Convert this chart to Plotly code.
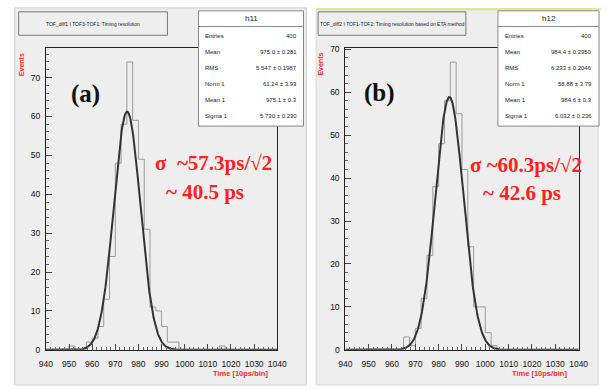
import numpy as np
import plotly.graph_objects as go

# ---------------- data ----------------
bin_width = 2.5
bin_lo = [940 + 2.5 * i for i in range(40)]

h11_counts = [0, 0, 0, 0, 1, 0, 0, 2, 3, 6,
              13, 24, 48, 58, 74, 59, 49, 31, 11, 10,
              6, 2, 2, 0, 0, 0, 0, 0, 0, 0,
              1, 0, 0, 0, 0, 0, 0, 0, 0, 0]
h12_counts = [0, 0, 0, 0, 0, 0, 0, 0, 0, 0,
              3, 1, 5, 12, 22, 38, 48, 58, 67, 55,
              42, 24, 10, 10, 4, 1, 0, 0, 0, 0,
              0, 0, 0, 0, 0, 0, 0, 0, 0, 0]

# fit parameters (Norm, Mean, Sigma)
h11_fit = [61.24, 975.1, 5.730]
h12_fit = [58.88, 984.6, 6.032]

h11_stats = [("Entries", "400"), ("Mean", "975.0 \u00b1 0.281"), ("RMS", "5.547 \u00b1 0.1987"),
             ("Norm 1", "61.24 \u00b1 3.93"), ("Mean 1", "975.1 \u00b1 0.3"), ("Sigma 1", "5.730 \u00b1 0.230")]
h12_stats = [("Entries", "400"), ("Mean", "984.4 \u00b1 0.2950"), ("RMS", "6.233 \u00b1 0.2046"),
             ("Norm 1", "58.88 \u00b1 3.79"), ("Mean 1", "984.6 \u00b1 0.3"), ("Sigma 1", "6.032 \u00b1 0.236")]

x_ticks = list(range(940, 1041, 10))
y_ticks = list(range(0, 71, 10))

W, H = 611, 390
fig = go.Figure()

def px(x):
    return x / W

def py(y):
    return 1 - y / H

# pad backgrounds
fig.add_shape(type="rect", xref="paper", yref="paper", x0=px(8), x1=px(308), y0=py(390), y1=py(4),
              fillcolor="#eeeeee", line=dict(color="#cfcfcf", width=1), layer="below")
fig.add_shape(type="rect", xref="paper", yref="paper", x0=px(318), x1=px(608), y0=py(390), y1=py(6),
              fillcolor="#eeeeee", line=dict(color="#d8d8d8", width=1), layer="below")
fig.add_shape(type="line", xref="paper", yref="paper", x0=px(318), x1=px(611), y0=py(5), y1=py(5),
              line=dict(color="#e6e68a", width=2))

def add_hist(counts, fit, xa, ya):
    xs = bin_lo + [bin_lo[-1] + bin_width]
    ys = counts + [counts[-1]]
    fig.add_trace(go.Scatter(x=xs, y=ys, mode="lines", line=dict(shape="hv", color="#9a9a9a", width=1),
                             xaxis=xa, yaxis=ya, showlegend=False, hoverinfo="skip"))
    xf = np.linspace(940, 1040, 600)
    norm, mu, sig = fit
    yf = norm * np.exp(-0.5 * ((xf - mu) / sig) ** 2)
    fig.add_trace(go.Scatter(x=xf, y=yf, mode="lines", line=dict(color="#333333", width=2),
                             xaxis=xa, yaxis=ya, showlegend=False, hoverinfo="skip"))

add_hist(h11_counts, h11_fit, "x", "y")
add_hist(h12_counts, h12_fit, "x2", "y2")

axis_common = dict(showline=True, linecolor="#222222", linewidth=1, mirror=True,
                   ticks="inside", ticklen=6, tickcolor="#444444", showgrid=False, zeroline=False,
                   tickfont=dict(family="Liberation Sans", size=8.5, color="#111111"))
xcommon = dict(axis_common, range=[940, 1040], tickvals=x_ticks, ticktext=[str(t) for t in x_ticks],
               ticklabelstandoff=6,
               minor=dict(ticks="inside", ticklen=3, dtick=2, tickcolor="#666666"))
ycommon = dict(axis_common, tickvals=y_ticks, ticktext=[str(t) for t in y_ticks],
               ticklabelstandoff=3,
               minor=dict(ticks="inside", ticklen=3, dtick=2, tickcolor="#666666"))

fig.update_layout(
    width=W, height=H, margin=dict(l=0, r=0, t=0, b=0),
    paper_bgcolor="white", plot_bgcolor="white",
    xaxis=dict(xcommon, domain=[px(40), px(278)], anchor="y"),
    yaxis=dict(ycommon, domain=[py(354), py(45)], range=[0, 77.6], anchor="x"),
    xaxis2=dict(xcommon, domain=[px(348), px(588)], anchor="y2"),
    yaxis2=dict(ycommon, domain=[py(354), py(45)], range=[0, 70.3], anchor="x2"),
)

ann = []
def text(x, y, s, size, color="#222222", family="Liberation Sans", xanchor="center", **kw):
    ann.append(dict(x=px(x), y=py(y), xref="paper", yref="paper", text=s, showarrow=False,
                    font=dict(size=size, color=color, family=family), xanchor=xanchor, yanchor="middle", **kw))

# title boxes
for (x0, x1, title) in [(12, 165, "TOF_diff1 I TOF3-TOF1: Timing resolution"),
                        (320, 472, "TOF_diff2 I TOF1-TOF2: Timing resolution based on ETA method")]:
    fig.add_shape(type="rect", xref="paper", yref="paper", x0=px(x0), x1=px(x1), y0=py(32), y1=py(8),
                  fillcolor="#eeeeee", line=dict(color="#777777", width=1))
    text((x0 + x1) / 2, 20, title, 5)

# stats boxes
for (x0, x1, name, stats) in [(197, 305, "h11", h11_stats), (505, 609, "h12", h12_stats)]:
    fig.add_shape(type="rect", xref="paper", yref="paper", x0=px(x0), x1=px(x1), y0=py(125), y1=py(7),
                  fillcolor="white", line=dict(color="#888888", width=1))
    fig.add_shape(type="line", xref="paper", yref="paper", x0=px(x0), x1=px(x1), y0=py(23), y1=py(23),
                  line=dict(color="#888888", width=1))
    text((x0 + x1) / 2, 15, name, 8)
    for i, (k, v) in enumerate(stats):
        yy = 33 + i * 16.4
        text(x0 + 5, yy, k, 6, xanchor="left")
        text(x1 - 5, yy, v, 6, xanchor="right")

# axis titles
text(15, 62, "<b>Events</b>", 7, color="#ff2a2a", textangle=-90)
text(323, 62, "<b>Events</b>", 7, color="#ff2a2a", textangle=-90)
text(240, 378, "<b>Time [10ps/bin]</b>", 7.5, color="#ff2a2a")
text(548, 378, "<b>Time [10ps/bin]</b>", 7.5, color="#ff2a2a")

# panel labels
text(81, 92, "<b>(a)</b>", 25, color="#111111", family="Liberation Serif")
text(383, 91, "<b>(b)</b>", 25, color="#111111", family="Liberation Serif")

# sigma annotations
text(212, 163, "<b>\u03c3  ~57.3ps/\u221a2</b>", 21, color="#ff2020", family="Liberation Serif")
text(204, 192, "<b>~ 40.5 ps</b>", 21, color="#ff2020", family="Liberation Serif")
text(534, 165, "<b>\u03c3 ~60.3ps/\u221a2</b>", 21, color="#ff2020", family="Liberation Serif")
text(530, 193, "<b>~ 42.6 ps</b>", 21, color="#ff2020", family="Liberation Serif")

fig.update_layout(annotations=ann)
fig.write_html("out.html")
